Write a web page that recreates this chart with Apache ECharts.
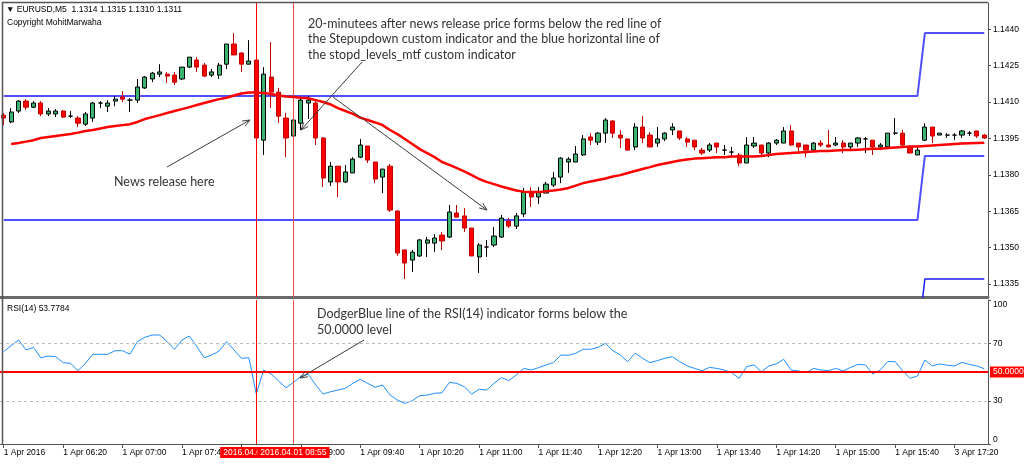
<!DOCTYPE html>
<html>
<head>
<meta charset="utf-8">
<script src="https://cdn.jsdelivr.net/npm/echarts@6/dist/echarts.min.js"></script>
<style>html,body{margin:0;padding:0;background:#fff;}#c{width:1024px;height:465px;}</style>
</head>
<body>
<div id="c"></div>
<script>
// ---------- DATA ----------
const categories = [];
for (let i = 0; i < 133; i++) {
  let day, m;
  if (i < 128) { day = '2016.04.01'; m = 340 + 5 * i; } else { day = '2016.04.03'; m = 1040 + 5 * (i - 128); }
  const hh = String(Math.floor(m / 60)).padStart(2, '0'), mm = String(m % 60).padStart(2, '0');
  categories.push(day + ' ' + hh + ':' + mm);
}
const tickLabels = ['1 Apr 2016','1 Apr 06:20','1 Apr 07:00','1 Apr 07:40','1 Apr 08:20','1 Apr 09:00','1 Apr 09:40','1 Apr 10:20','1 Apr 11:00','1 Apr 11:40','1 Apr 12:20','1 Apr 13:00','1 Apr 13:40','1 Apr 14:20','1 Apr 15:00','1 Apr 15:40','3 Apr 17:20'];
const priceTicks = [1.1335, 1.1350, 1.1365, 1.1380, 1.1395, 1.1410, 1.1425, 1.1440];
const rsiTicks = [0, 30, 70, 100];

const opens = [1.14046,1.14018,1.14063,1.14104,1.14079,1.14096,1.14051,1.14051,1.14063,1.14042,
 1.14034,1.14009,1.14034,1.14096,1.14083,1.14104,1.14121,1.14108,1.14108,1.14158,
 1.14195,1.14215,1.14215,1.14211,1.14195,1.14244,1.14273,1.14252,1.14211,1.14211,
 1.14256,1.14339,1.14302,1.14256,1.14273,1.13943,1.14203,1.14141,1.14034,1.13960,
 1.14013,1.14096,1.14096,1.13952,1.13771,1.13836,1.13771,1.13808,1.13873,1.13919,
 1.13853,1.13791,1.13836,1.13651,1.13491,1.13449,1.13466,1.13519,1.13519,1.13552,
 1.13544,1.13643,1.13631,1.13581,1.13462,1.13503,1.13511,1.13544,1.13610,1.13589,
 1.13639,1.13725,1.13709,1.13725,1.13758,1.13791,1.13853,1.13853,1.13882,1.13956,
 1.13935,1.13972,1.14022,1.13964,1.13948,1.13915,1.13997,1.13964,1.13931,1.13948,
 1.13985,1.13981,1.13948,1.13943,1.13902,1.13902,1.13931,1.13902,1.13894,1.13882,
 1.13849,1.13919,1.13923,1.13890,1.13931,1.13931,1.13981,1.13931,1.13923,1.13902,
 1.13931,1.13923,1.13923,1.13931,1.13915,1.13931,1.13948,1.13943,1.13915,1.13915,
 1.13972,1.13972,1.13915,1.13882,1.13943,1.13997,1.13964,1.13964,1.13964,1.13964,
 1.13972,1.13981,1.13964];
const closes = [1.14034,1.14059,1.14104,1.14079,1.14096,1.14051,1.14063,1.14063,1.14038,1.14042,
 1.14013,1.14051,1.14096,1.14096,1.14096,1.14112,1.14112,1.14108,1.14162,1.14203,
 1.14219,1.14224,1.14207,1.14182,1.14244,1.14285,1.14244,1.14207,1.14224,1.14252,
 1.14339,1.14294,1.14256,1.14269,1.13952,1.14215,1.14141,1.14042,1.13952,1.14026,
 1.14108,1.14108,1.13952,1.13787,1.13836,1.13771,1.13812,1.13865,1.13923,1.13861,
 1.13783,1.13824,1.13655,1.13478,1.13437,1.13482,1.13532,1.13532,1.13540,1.13528,
 1.13647,1.13626,1.13581,1.13466,1.13511,1.13503,1.13548,1.13622,1.13589,1.13631,
 1.13729,1.13709,1.13729,1.13762,1.13787,1.13869,1.13865,1.13886,1.13948,1.13943,
 1.13972,1.14026,1.13972,1.13952,1.13902,1.13997,1.13952,1.13915,1.13948,1.13972,
 1.13997,1.13952,1.13935,1.13915,1.13890,1.13923,1.13915,1.13902,1.13894,1.13849,
 1.13923,1.13931,1.13890,1.13931,1.13943,1.13981,1.13923,1.13915,1.13902,1.13931,
 1.13923,1.13915,1.13931,1.13915,1.13931,1.13952,1.13948,1.13915,1.13923,1.13972,
 1.13972,1.13923,1.13890,1.13902,1.13997,1.13960,1.13972,1.13964,1.13964,1.13981,
 1.13972,1.13960,1.13952];
const highs = [1.14055,1.14075,1.14108,1.14112,1.14104,1.14104,1.14075,1.14071,1.14067,1.14063,
 1.14042,1.14059,1.14100,1.14104,1.14108,1.14125,1.14145,1.14116,1.14195,1.14207,
 1.14224,1.14256,1.14224,1.14224,1.14244,1.14285,1.14285,1.14261,1.14236,1.14261,
 1.14339,1.14384,1.14306,1.14355,1.14281,1.14244,1.14347,1.14158,1.14055,1.14055,
 1.14121,1.14125,1.14108,1.13956,1.13853,1.13836,1.13841,1.13873,1.13948,1.13919,
 1.13853,1.13824,1.13845,1.13655,1.13491,1.13491,1.13536,1.13544,1.13556,1.13565,
 1.13676,1.13676,1.13663,1.13581,1.13519,1.13532,1.13585,1.13635,1.13622,1.13643,
 1.13746,1.13750,1.13750,1.13771,1.13812,1.13873,1.13873,1.13919,1.13964,1.13972,
 1.13976,1.14034,1.14026,1.13985,1.13948,1.14013,1.14042,1.13976,1.13997,1.13976,
 1.14013,1.13981,1.13956,1.13943,1.13911,1.13931,1.13931,1.13923,1.13915,1.13890,
 1.13956,1.13956,1.13923,1.13935,1.13948,1.13997,1.14005,1.13931,1.13923,1.13935,
 1.13943,1.13985,1.13956,1.13943,1.13931,1.13956,1.13956,1.13943,1.13931,1.13972,
 1.14034,1.13985,1.13923,1.13915,1.14013,1.13997,1.13972,1.13972,1.13972,1.13985,
 1.13981,1.13981,1.13968];
const lows = [1.14005,1.14013,1.14055,1.14067,1.14075,1.14042,1.14042,1.14038,1.14034,1.14034,
 1.13997,1.14001,1.14018,1.14075,1.14059,1.14083,1.14100,1.14059,1.14096,1.14154,
 1.14182,1.14203,1.14178,1.14170,1.14191,1.14240,1.14224,1.14203,1.14203,1.14195,
 1.14236,1.14294,1.14224,1.14256,1.13882,1.13882,1.14075,1.14013,1.13873,1.13943,
 1.13985,1.14030,1.13923,1.13750,1.13754,1.13709,1.13766,1.13808,1.13869,1.13849,
 1.13766,1.13725,1.13647,1.13466,1.13371,1.13400,1.13462,1.13462,1.13482,1.13491,
 1.13540,1.13626,1.13565,1.13466,1.13396,1.13462,1.13503,1.13540,1.13581,1.13577,
 1.13626,1.13668,1.13680,1.13725,1.13750,1.13766,1.13808,1.13853,1.13878,1.13923,
 1.13923,1.13931,1.13952,1.13911,1.13902,1.13902,1.13931,1.13915,1.13915,1.13939,
 1.13964,1.13943,1.13915,1.13902,1.13882,1.13894,1.13890,1.13882,1.13873,1.13836,
 1.13849,1.13911,1.13873,1.13873,1.13923,1.13931,1.13919,1.13894,1.13873,1.13894,
 1.13915,1.13915,1.13919,1.13890,1.13902,1.13915,1.13890,1.13882,1.13902,1.13911,
 1.13964,1.13919,1.13890,1.13882,1.13939,1.13931,1.13964,1.13952,1.13943,1.13952,
 1.13960,1.13952,1.13948];
const maValues = [null,1.13927,1.13931,1.13937,1.13943,1.13952,1.13956,1.13960,1.13964,1.13968,
 1.13974,1.13981,1.13985,1.13991,1.13997,1.14001,1.14005,1.14009,1.14018,1.14030,
 1.14038,1.14046,1.14055,1.14063,1.14071,1.14079,1.14088,1.14096,1.14104,1.14112,
 1.14118,1.14127,1.14135,1.14139,1.14139,1.14137,1.14133,1.14127,1.14123,1.14121,
 1.14118,1.14116,1.14108,1.14100,1.14090,1.14075,1.14063,1.14051,1.14036,1.14026,
 1.14016,1.14005,1.13985,1.13968,1.13948,1.13927,1.13906,1.13890,1.13873,1.13853,
 1.13841,1.13828,1.13814,1.13799,1.13783,1.13771,1.13762,1.13752,1.13744,1.13736,
 1.13731,1.13729,1.13729,1.13733,1.13736,1.13740,1.13746,1.13756,1.13766,1.13773,
 1.13779,1.13785,1.13793,1.13799,1.13808,1.13816,1.13824,1.13832,1.13841,1.13847,
 1.13853,1.13859,1.13863,1.13867,1.13869,1.13871,1.13873,1.13873,1.13876,1.13876,
 1.13876,1.13876,1.13878,1.13882,1.13886,1.13888,1.13890,1.13892,1.13894,1.13896,
 1.13898,1.13898,1.13900,1.13902,1.13902,1.13904,1.13906,1.13908,1.13908,1.13911,
 1.13913,1.13915,1.13917,1.13917,1.13919,1.13921,1.13923,1.13925,1.13927,1.13929,
 1.13930,1.13931,1.13932];
// stepped levels: [value before step, value after step]
const stepIndex = [123, 124];
const levelUpper = [1.14125, 1.14384];
const levelMiddle = [1.13614, 1.13878];
const levelLower = [1.13104, 1.13371];
const rsiValues = [64.1,68.3,72.2,65.3,67.1,59.9,61.1,60.6,56.5,56.0,
 50.9,56.0,62.3,62.3,62.3,64.8,64.8,62.3,71.1,74.1,
 75.7,75.7,71.1,65.8,72.2,75.0,67.6,59.9,61.8,64.6,
 71.1,65.3,59.5,59.9,34.8,51.4,48.6,43.8,39.1,42.8,
 46.8,48.4,41.0,34.7,36.3,37.5,38.7,42.1,44.9,42.1,
 39.4,41.0,34.0,30.6,28.2,30.1,33.5,34.0,35.2,35.6,
 42.8,42.1,39.8,34.7,38.0,37.5,42.1,46.1,44.0,47.9,
 52.5,51.4,53.0,54.9,56.5,61.8,61.6,63.0,65.8,65.8,
 67.1,69.9,64.8,61.8,57.2,63.0,59.5,56.5,57.9,59.5,
 60.6,57.2,54.2,52.5,50.9,53.2,52.5,51.4,49.5,45.6,
 53.7,54.9,50.2,54.2,55.6,58.8,51.4,50.7,49.5,52.5,
 51.4,50.9,52.5,50.7,53.2,55.3,54.9,48.6,51.4,57.2,
 57.2,50.9,45.6,47.2,58.3,54.2,55.6,54.7,54.2,56.7,
 55.3,54.2,52.3];
const newsIndex = 34, entryIndex = 39;

// ---------- BUILD ----------
const last = categories.length - 1;
function stepData(lv) { return [[0, lv[0]], [stepIndex[0], lv[0]], [stepIndex[1], lv[1]], [last, lv[1]]]; }
const candleData = opens.map((o, i) => {
  const item = { value: [o, closes[i], lows[i], highs[i]] };
  if (o === closes[i]) item.itemStyle = { color: '#000', borderColor: '#000', color0: '#000', borderColor0: '#000' };
  return item;
});
const F = 'Liberation Sans';
const AF = 'Lato';
const AS = 12.5;
const stroke = '#3a3a3a';
function arrow(x1, y1, x2, y2) {
  const a = Math.atan2(y2 - y1, x2 - x1), L = 8, w = 0.38;
  return [
    { type: 'line', shape: { x1, y1, x2, y2 }, style: { stroke, lineWidth: 1 }, z: 100 },
    { type: 'polyline', shape: { points: [[x2 - L * Math.cos(a - w), y2 - L * Math.sin(a - w)], [x2, y2], [x2 - L * Math.cos(a + w), y2 - L * Math.sin(a + w)]] }, style: { stroke, fill: null, lineWidth: 1 }, z: 100 }
  ];
}
function txt(x, y, text, size, family, color) {
  return { type: 'text', x, y, z: 100, style: { text, fontSize: size, fontFamily: family, fill: color || '#000', verticalAlign: 'middle', align: 'left' } };
}
const graphics = [
  { type: 'line', shape: { x1: 2.5, y1: 2, x2: 2.5, y2: 445 }, style: { stroke: '#555', lineWidth: 1.5 }, z: 90 },
  { type: 'line', shape: { x1: 2, y1: 2.5, x2: 988, y2: 2.5 }, style: { stroke: '#555', lineWidth: 1.5 }, z: 90 },
  txt(6, 9.5, '\u25BC EURUSD,M5  1.1314 1.1315 1.1310 1.1311', 8.5, F),
  txt(7, 22.5, 'Copyright MohitMarwaha', 8.5, F),
  txt(7, 308.5, 'RSI(14) 53.7784', 8.5, F),
  txt(308, 23.5, '20-minutees after news release price forms below the red line of', AS, AF, '#333'),
  txt(308, 39, 'the Stepupdown custom indicator and the blue horizontal line of', AS, AF, '#333'),
  txt(308, 54.5, 'the stopd_levels_mtf custom indicator', AS, AF, '#333'),
  txt(114, 182, 'News release here', AS, AF, '#333'),
  txt(317, 313.5, 'DodgerBlue line of the RSI(14) indicator forms below the', AS, AF, '#333'),
  txt(317, 329.5, '50.0000 level', AS, AF, '#333'),
  ...arrow(167, 167, 250, 120),
  ...arrow(362, 62, 301, 130),
  ...arrow(333, 97, 487, 210),
  ...arrow(364, 340, 300, 378)
];

const chart = echarts.init(document.getElementById('c'), null, { renderer: 'canvas' });
chart.setOption({
  animation: false,
  backgroundColor: '#fff',
  grid: [
    { left: 0, right: 36, top: 3, height: 294 },
    { left: 0, right: 36, top: 300, height: 144 }
  ],
  xAxis: [
    { type: 'category', gridIndex: 0, data: categories, boundaryGap: true,
      axisLine: { show: true, lineStyle: { color: '#6a6a6a', width: 3 } },
      axisTick: { show: false }, axisLabel: { show: false }, splitLine: { show: false } },
    { type: 'category', gridIndex: 1, data: categories, boundaryGap: true,
      axisLine: { show: true, lineStyle: { color: '#555', width: 1 } },
      axisTick: { show: true, interval: 7, alignWithLabel: true, length: 4, lineStyle: { color: '#555' } },
      axisLabel: { interval: 7, align: 'left', margin: 4, color: '#000', fontSize: 8.5, fontFamily: F,
        formatter: (v, idx) => tickLabels[Math.round(idx / 8)] || '' },
      splitLine: { show: false } }
  ],
  yAxis: [
    { type: 'value', gridIndex: 0, position: 'right', min: 1.13297, max: 1.14508, scale: true,
      splitLine: { show: false },
      axisLine: { show: true, lineStyle: { color: '#555' } },
      axisTick: { show: true, customValues: priceTicks, length: 3, lineStyle: { color: '#555' } },
      axisLabel: { customValues: priceTicks, margin: 5, color: '#000', fontSize: 8.5, fontFamily: F, formatter: v => v.toFixed(4) } },
    { type: 'value', gridIndex: 1, position: 'right', min: 0, max: 100,
      splitLine: { show: false },
      axisLine: { show: true, lineStyle: { color: '#555' } },
      axisTick: { show: true, customValues: rsiTicks, length: 3, lineStyle: { color: '#555' } },
      axisLabel: { customValues: rsiTicks, margin: 5, color: '#000', fontSize: 8.5, fontFamily: F,
        verticalAlignMinLabel: 'bottom', verticalAlignMaxLabel: 'top' } }
  ],
  series: [
    { type: 'line', xAxisIndex: 0, yAxisIndex: 0, data: stepData(levelUpper), showSymbol: false, silent: true,
      lineStyle: { color: '#5050ff', width: 2 }, z: 1 },
    { type: 'line', xAxisIndex: 0, yAxisIndex: 0, data: stepData(levelMiddle), showSymbol: false, silent: true,
      lineStyle: { color: '#5050ff', width: 2 }, z: 1 },
    { type: 'line', xAxisIndex: 0, yAxisIndex: 0, data: stepData(levelLower), showSymbol: false, silent: true,
      lineStyle: { color: '#1a1aff', width: 1.5 }, z: 1 },
    { type: 'candlestick', xAxisIndex: 0, yAxisIndex: 0, data: candleData, barWidth: 4.6, z: 3,
      itemStyle: { color: '#3cb371', color0: '#ff0000', borderColor: '#000000', borderColor0: '#c00000', borderWidth: 1 },
      markLine: { silent: true, symbol: 'none', animation: false, label: { show: false },
        data: [ { xAxis: categories[newsIndex], lineStyle: { color: '#ff0000', width: 1, type: 'solid' } },
                { xAxis: categories[entryIndex], lineStyle: { color: '#ff4a4a', width: 1, type: 'solid' } } ] } },
    { type: 'line', xAxisIndex: 0, yAxisIndex: 0, data: maValues, showSymbol: false, silent: true,
      lineStyle: { color: '#ff0000', width: 2.5 }, z: 5 },
    { type: 'line', xAxisIndex: 1, yAxisIndex: 1, data: rsiValues, showSymbol: false, silent: true,
      lineStyle: { color: '#1e90ff', width: 1 }, z: 4,
      markLine: { silent: true, symbol: 'none', animation: false,
        data: [
          { yAxis: 30, lineStyle: { color: '#bdbdbd', width: 1, type: [3, 3] }, label: { show: false } },
          { yAxis: 70, lineStyle: { color: '#bdbdbd', width: 1, type: [3, 3] }, label: { show: false } },
          { yAxis: 50, lineStyle: { color: '#ff0000', width: 2, type: 'solid' },
            label: { show: true, position: 'end', formatter: '50.0000', color: '#fff', backgroundColor: '#ff0000',
              fontSize: 8.5, fontFamily: F, padding: [1, 3], distance: 2 } },
          { xAxis: categories[newsIndex], lineStyle: { color: '#ff0000', width: 1, type: 'solid' },
            label: { show: true, position: 'start', formatter: '2016.04.01 08:30', color: '#fff', backgroundColor: '#ff0000',
              fontSize: 8.5, fontFamily: F, padding: [1, 3], distance: 3 } },
          { xAxis: categories[entryIndex], lineStyle: { color: '#ff4a4a', width: 1, type: 'solid' },
            label: { show: true, position: 'start', formatter: '2016.04.01 08:55', color: '#fff', backgroundColor: '#ff0000',
              fontSize: 8.5, fontFamily: F, padding: [1, 3], distance: 3 } }
        ] } }
  ],
  graphic: graphics
});
</script>
</body>
</html>
